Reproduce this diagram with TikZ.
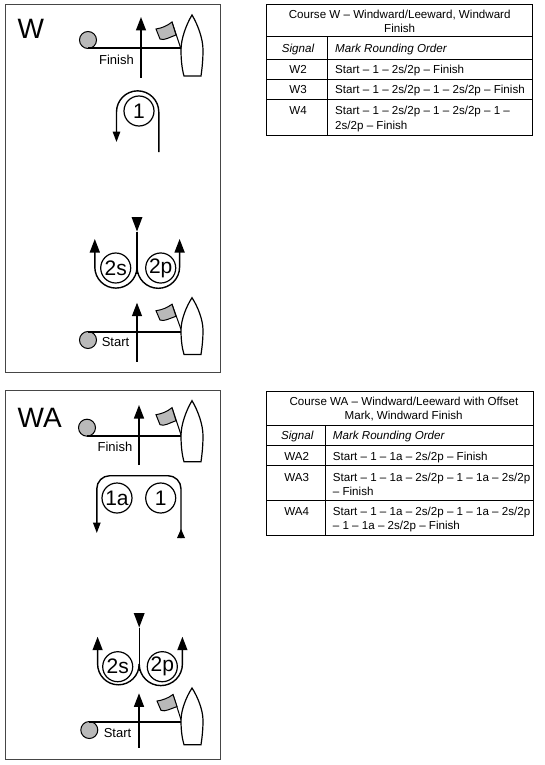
\documentclass[tikz,border=0pt]{standalone}
\usepackage{fontspec}
\setmainfont{Liberation Sans}
\usetikzlibrary{arrows.meta}
\definecolor{markgray}{RGB}{185,185,185}
\definecolor{panelline}{RGB}{70,70,70}
\tikzset{
  panel/.style={draw=panelline,line width=1pt},
  course/.style={line width=1.4pt,black},
  wind/.style={course,-{Triangle[length=13.5pt,width=10pt]}},
  windsmall/.style={course,-{Triangle[length=10.5pt,width=7.5pt]}},
  roundmark/.style={circle,draw,line width=1.2pt,minimum size=30pt,inner sep=0pt,font=\fontsize{21}{21}\selectfont},
  linemark/.style={circle,draw=black,fill=markgray,line width=1pt,minimum size=17pt,inner sep=0pt},
  linelabel/.style={inner sep=0pt,font=\fontsize{13}{13}\selectfont},
  bigtitle/.style={inner sep=0pt,anchor=base west,font=\fontsize{28}{28}\selectfont},
  tabrule/.style={line width=0.9pt,black},
  tabtext/.style={inner sep=0pt,anchor=base west,font=\fontsize{11.6}{14}\selectfont},
  tabmid/.style={inner sep=0pt,anchor=base,font=\fontsize{11.6}{14}\selectfont},
}
% #1 top of boat, #2 vertical scale, #3 flag dx
\newcommand{\committeeboat}[3]{%
  \begin{scope}[shift={(0,#1)},yscale=#2]
    \draw[line width=1.2pt,fill=white]
      (192,0) .. controls (186,10) and (181,24) .. (181,35)
      .. controls (181,45) and (182,54) .. (184,61) -- (201,61)
      .. controls (202,54) and (203,45) .. (203,35)
      .. controls (203,24) and (198,10) .. (192,0) -- cycle;
    \draw[line width=1pt] (181,34) -- (#3+172,7);
    \draw[line width=1pt,fill=markgray]
      (#3+172,7) .. controls (#3+167,11) and (#3+162,13) .. (#3+156,14)
      -- (#3+160,24) .. controls (#3+164,26) and (#3+170,22) .. (#3+176,20) -- cycle;
  \end{scope}}
\begin{document}
\begin{tikzpicture}[x=1pt,y=-1pt]
\useasboundingbox (0,0) rectangle (545,765);
\fill[white] (0,0) rectangle (545,765);

% ---------- Course W diagram
\draw[panel] (5,4.5) rectangle (220,372.7);
\node[bigtitle] (titleW) at (17.5,39) {W};
\committeeboat{15}{1}{0}
\node[linemark] (finW) at (88,40) {};
\coordinate (finWl) at (88,48);
\coordinate (finWr) at (181,48);
\draw[course] (finWl) -- (finWr);
\coordinate (finWa) at (141,78);
\coordinate (finWb) at (141,17);
\draw[wind] (finWa) -- (finWb);
\node[linelabel] (finWt) at (116.5,59.5) {Finish};

\node[roundmark] (m1W) at (139,111) {1};
\coordinate (m1Wa) at (158.8,152);
\coordinate (m1Wb) at (116.5,142);
\draw[windsmall] (m1Wa) -- (158.8,112) arc[start angle=0,end angle=-180,radius=21.15] -- (m1Wb);

\coordinate (stWt) at (137,217);
\coordinate (stWh) at (137,231.5);
\coordinate (stWj) at (137,267);
\coordinate (stWe) at (137,274);
\fill ([xshift=-5.5pt]stWt) -- ([xshift=5.5pt]stWt) -- (stWh) -- cycle;
\draw[course] (stWh) -- (stWe);
\node[roundmark] (m2sW) at (115.7,268) {2s};
\node[roundmark] (m2pW) at (160.7,268) {2p};
\coordinate (upWl) at (94.8,239);
\coordinate (upWr) at (179.6,239);
\draw[wind] (stWj) arc[start angle=0,end angle=180,radius=21.1] -- (upWl);
\draw[wind] (stWj) arc[start angle=180,end angle=0,radius=21.3] -- (upWr);

\committeeboat{297.7}{0.93}{0}
\node[linemark] (staW) at (88,340) {};
\coordinate (staWl) at (88,332);
\coordinate (staWr) at (181,332);
\draw[course] (staWl) -- (staWr);
\coordinate (staWa) at (137,361.7);
\coordinate (staWb) at (137,302.7);
\draw[wind] (staWa) -- (staWb);
\node[linelabel] (staWt) at (115.5,342.5) {Start};

% ---------- Course WA diagram
\draw[panel] (5,390.3) rectangle (220,759.3);
\node[bigtitle] (titleWA) at (17.5,427) {WA};
\committeeboat{400.7}{1}{0}
\node[linemark] (finA) at (87,427.7) {};
\coordinate (finAl) at (87,436);
\coordinate (finAr) at (181,436);
\draw[course] (finAl) -- (finAr);
\coordinate (finAa) at (139,465);
\coordinate (finAb) at (139,405);
\draw[wind] (finAa) -- (finAb);
\node[linelabel] (finAt) at (115,447) {Finish};

\node[roundmark] (m1aA) at (117,498) {1a};
\node[roundmark] (m1A) at (160.7,498) {1};
\coordinate (rA) at (181,538);
\coordinate (lA) at (96.8,533);
\draw[windsmall,rounded corners=13pt] (rA) -- (181,475.7) -- (96.8,475.7) -- (lA);
\coordinate (rAt) at (181,529);
\fill (rAt) -- (185,538) -- (177,538) -- cycle;

\coordinate (stAt) at (139.2,613);
\coordinate (stAh) at (139.2,627.5);
\coordinate (stAj) at (139.2,664);
\coordinate (stAe) at (139.2,671);
\fill ([xshift=-5.5pt]stAt) -- ([xshift=5.5pt]stAt) -- (stAh) -- cycle;
\draw[course] (stAh) -- (stAe);
\node[roundmark] (m2sA) at (117.7,666.7) {2s};
\node[roundmark] (m2pA) at (162.3,666.7) {2p};
\coordinate (upAl) at (97.6,636.7);
\coordinate (upAr) at (182.4,636.7);
\draw[wind] (stAj) arc[start angle=0,end angle=180,radius=20.8] -- (upAl);
\draw[wind] (stAj) arc[start angle=180,end angle=0,radius=21.6] -- (upAr);

\committeeboat{688}{0.93}{1}
\node[linemark] (staA) at (89.3,730) {};
\coordinate (staAl) at (89.3,722);
\coordinate (staAr) at (181,722);
\draw[course] (staAl) -- (staAr);
\coordinate (staAa) at (139,747.7);
\coordinate (staAb) at (139,693.3);
\draw[wind] (staAa) -- (staAb);
\node[linelabel] (staAt) at (117.5,733.5) {Start};

% ---------- Table W
\draw[tabrule] (266.7,4) rectangle (532.7,135);
\draw[tabrule] (266.7,36.7) -- (532.7,36.7);
\draw[tabrule] (266.7,59.3) -- (532.7,59.3);
\draw[tabrule] (266.7,79.3) -- (532.7,79.3);
\draw[tabrule] (266.7,99.3) -- (532.7,99.3);
\draw[tabrule] (327.7,36.7) -- (327.7,135);
\node[tabmid] (tW1) at (399.7,18.5) {Course W – Windward/Leeward, Windward};
\node[tabmid] (tW2) at (399.7,32.5) {Finish};
\node[tabmid] (hW1) at (298,53) {\itshape Signal};
\node[tabtext] (hW2) at (335,53) {\itshape Mark Rounding Order};
\node[tabmid] (w2) at (298,74) {W2};
\node[tabtext] (w2o) at (335,74) {Start – 1 – 2s/2p – Finish};
\node[tabmid] (w3) at (298,94) {W3};
\node[tabtext] (w3o) at (335,94) {Start – 1 – 2s/2p – 1 – 2s/2p – Finish};
\node[tabmid] (w4) at (298,115) {W4};
\node[tabtext] (w4o) at (335,115) {Start – 1 – 2s/2p – 1 – 2s/2p – 1 –};
\node[tabtext] (w4p) at (335,129) {2s/2p – Finish};

% ---------- Table WA
\draw[tabrule] (266.3,391) rectangle (533,535.7);
\draw[tabrule] (266.3,425) -- (533,425);
\draw[tabrule] (266.3,445.7) -- (533,445.7);
\draw[tabrule] (266.3,465.7) -- (533,465.7);
\draw[tabrule] (266.3,500.3) -- (533,500.3);
\draw[tabrule] (325.7,425) -- (325.7,535.7);
\node[tabmid] (tA1) at (404,405) {Course WA – Windward/Leeward with Offset};
\node[tabmid] (tA2) at (403.7,419) {Mark, Windward Finish};
\node[tabmid] (hA1) at (297.3,439.5) {\itshape Signal};
\node[tabtext] (hA2) at (332.7,439.5) {\itshape Mark Rounding Order};
\node[tabmid] (a2) at (296.7,460.5) {WA2};
\node[tabtext] (a2o) at (332.7,460.5) {Start – 1 – 1a – 2s/2p – Finish};
\node[tabmid] (a3) at (296.7,481) {WA3};
\node[tabtext] (a3o) at (332.7,481) {Start – 1 – 1a – 2s/2p – 1 – 1a – 2s/2p};
\node[tabtext] (a3p) at (332.7,495) {– Finish};
\node[tabmid] (a4) at (296.7,515) {WA4};
\node[tabtext] (a4o) at (332.7,515) {Start – 1 – 1a – 2s/2p – 1 – 1a – 2s/2p};
\node[tabtext] (a4p) at (332.7,529) {– 1 – 1a – 2s/2p – Finish};
\end{tikzpicture}
\end{document}
